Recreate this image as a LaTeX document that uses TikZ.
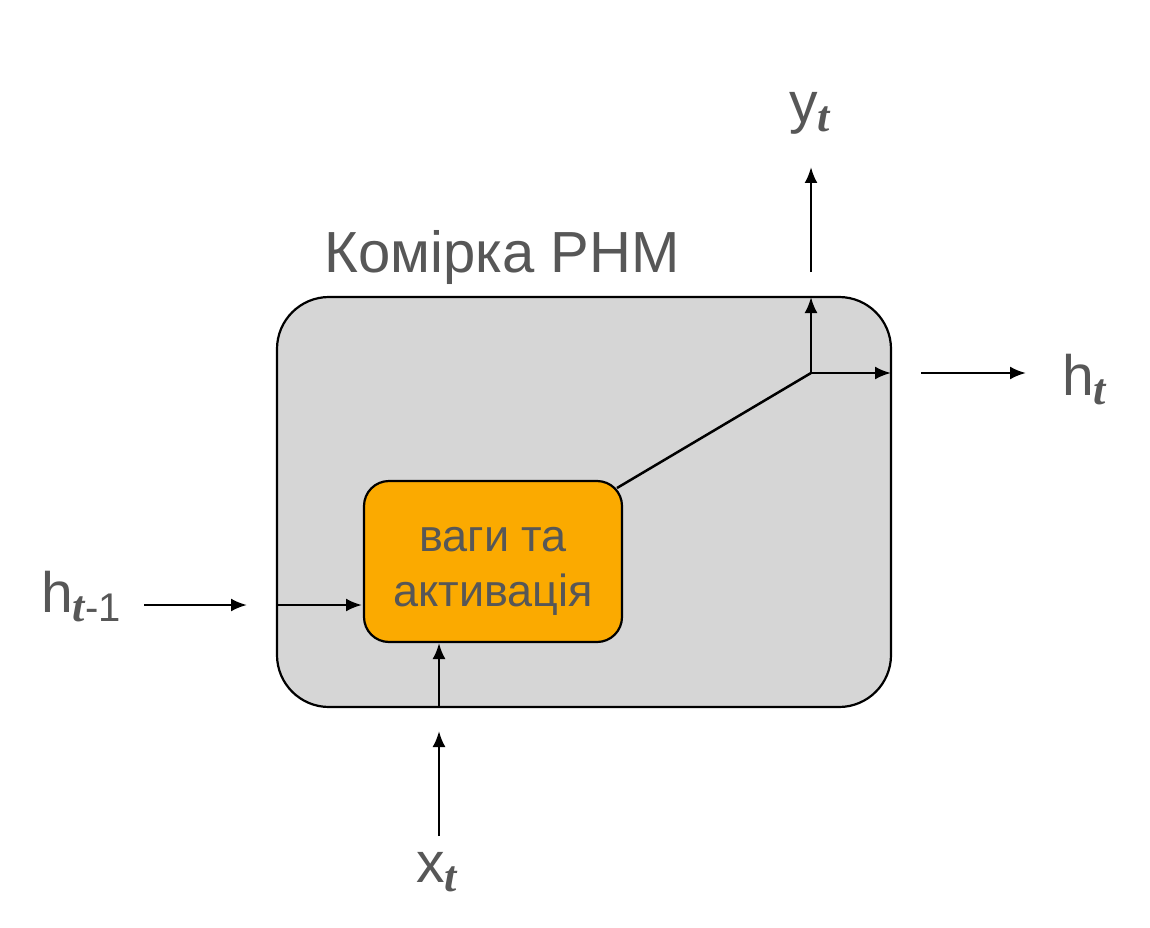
\documentclass[tikz,border=0pt]{standalone}
\usepackage{fontspec}
\setmainfont{Liberation Sans}
\newfontfamily\subfont{Liberation Serif}
\usetikzlibrary{arrows.meta}
\definecolor{cellgray}{HTML}{D6D6D6}
\definecolor{cellorange}{HTML}{FBAA00}
\definecolor{txtgray}{HTML}{575757}
\newcommand\mysub[1]{\raisebox{-9pt}{\fontsize{40}{40}\selectfont{\fontsize{44}{44}\selectfont\subfont\bfseries\itshape t}#1}}
\begin{document}
\begin{tikzpicture}[x=1pt,y=-1pt,
  arr/.style={line width=2.5pt, -{Latex[length=16pt,width=13pt]}},
  ln/.style={line width=2.5pt},
  lbl/.style={inner sep=0pt, text=txtgray, font=\fontsize{57}{57}\selectfont, anchor=base west},
]
\useasboundingbox (0,0) rectangle (1150,928);
\fill[white] (0,0) rectangle (1150,928);
% cell
\node[draw, line width=2.2pt, fill=cellgray, rounded corners=52pt, minimum width=614pt, minimum height=410pt, inner sep=0pt] (cell) at (584,502) {};
\node[inner sep=0pt, text=txtgray, font=\fontsize{58}{58}\selectfont, anchor=base] (title) at (502,272) {Комірка РНМ};
% weights box
\node[draw, line width=2.2pt, fill=cellorange, rounded corners=25pt, minimum width=258pt, minimum height=161pt, inner sep=0pt] (wa) at (493,561.5) {};
\node[inner sep=0pt, align=center, text=txtgray, font=\fontsize{45}{55}\selectfont] (walbl) at (493,571) {ваги та\\активація};
% labels
\node[lbl] (hprev) at (41,612) {h\mysub{-1}};
\node[lbl] (xt) at (416,882) {x\mysub{}};
\node[lbl] (yt) at (789,123) {y\mysub{}};
\node[lbl] (ht) at (1062,395) {h\mysub{}};
% coordinates
\coordinate (a1) at (144,605);
\coordinate (a2) at (247,605);
\coordinate (a3) at (277,605);
\coordinate (a4) at (362,605);
\coordinate (b1) at (439,836);
\coordinate (b2) at (439,731);
\coordinate (b3) at (439,707);
\coordinate (b4) at (439,643);
\coordinate (c0) at (617,488);
\coordinate (j) at (811,373);
\coordinate (jtop) at (811,297);
\coordinate (jright) at (891,373);
\coordinate (y1) at (811,272);
\coordinate (y2) at (811,167);
\coordinate (h1) at (921,373);
\coordinate (h2) at (1026,373);
% connectors
\draw[arr] (a1) -- (a2);
\draw[arr] (a3) -- (a4);
\draw[arr] (b1) -- (b2);
\draw[arr] (b3) -- (b4);
\draw[ln] (c0) -- (j);
\draw[arr] (j) -- (jtop);
\draw[arr] (j) -- (jright);
\draw[arr] (y1) -- (y2);
\draw[arr] (h1) -- (h2);
\end{tikzpicture}
\end{document}
